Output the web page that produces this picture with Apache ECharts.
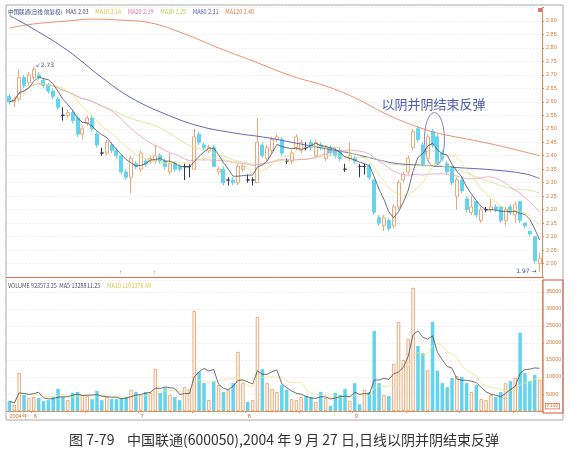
<!DOCTYPE html>
<html lang="zh">
<head>
  <meta charset="utf-8">
</head>
<body style="margin: 0; background: #fff">
  <div id="container" style="width: 582px; height: 459px"></div>

  <script type="text/javascript" src="https://cdn.jsdelivr.net/npm/echarts@6/dist/echarts.min.js"></script>

  <script type="text/javascript">
    // daily bars, May–Nov 2004
    const openPrices = [2.62, 2.60, 2.61, 2.69, 2.67, 2.69, 2.70, 2.68, 2.66, 2.64,
      2.61, 2.55, 2.55, 2.56, 2.54, 2.48, 2.52, 2.54, 2.48, 2.41,
      2.41, 2.44, 2.42, 2.40, 2.34, 2.32, 2.37, 2.35, 2.38, 2.38,
      2.38, 2.40, 2.38, 2.34, 2.37, 2.36, 2.36, 2.36, 2.35, 2.48,
      2.44, 2.42, 2.43, 2.34, 2.35, 2.31, 2.31, 2.30, 2.35, 2.31,
      2.31, 2.30, 2.44, 2.39, 2.42, 2.46, 2.46, 2.38, 2.38, 2.43,
      2.42, 2.43, 2.45, 2.40, 2.44, 2.39, 2.43, 2.42, 2.42, 2.35,
      2.39, 2.39, 2.36, 2.36, 2.36, 2.31, 2.17, 2.14, 2.16, 2.14,
      2.21, 2.31, 2.34, 2.43, 2.50, 2.44, 2.39, 2.49, 2.47, 2.41,
      2.37, 2.36, 2.25, 2.31, 2.24, 2.19, 2.23, 2.16, 2.20, 2.20,
      2.21, 2.21, 2.16, 2.21, 2.18, 2.23, 2.15, 2.12, 2.10, 2.00];
    const closePrices = [2.60, 2.61, 2.69, 2.66, 2.70, 2.72, 2.69, 2.66, 2.64, 2.62,
      2.58, 2.55, 2.56, 2.53, 2.48, 2.50, 2.54, 2.50, 2.44, 2.41,
      2.45, 2.42, 2.40, 2.34, 2.32, 2.39, 2.36, 2.41, 2.37, 2.39,
      2.40, 2.38, 2.36, 2.37, 2.35, 2.35, 2.36, 2.36, 2.47, 2.45,
      2.43, 2.43, 2.36, 2.35, 2.30, 2.31, 2.30, 2.36, 2.36, 2.31,
      2.31, 2.45, 2.40, 2.43, 2.46, 2.47, 2.41, 2.38, 2.41, 2.47,
      2.45, 2.43, 2.43, 2.45, 2.43, 2.43, 2.41, 2.40, 2.39, 2.35,
      2.40, 2.38, 2.36, 2.36, 2.32, 2.19, 2.15, 2.17, 2.13, 2.21,
      2.30, 2.33, 2.39, 2.49, 2.46, 2.37, 2.47, 2.44, 2.37, 2.39,
      2.34, 2.30, 2.31, 2.27, 2.20, 2.21, 2.18, 2.20, 2.20, 2.21,
      2.20, 2.16, 2.20, 2.19, 2.22, 2.16, 2.14, 2.11, 2.01, 2.02];
    const lowPrices = [2.59, 2.58, 2.60, 2.65, 2.66, 2.68, 2.68, 2.65, 2.63, 2.61,
      2.57, 2.53, 2.54, 2.52, 2.47, 2.46, 2.51, 2.49, 2.43, 2.40,
      2.40, 2.41, 2.39, 2.33, 2.31, 2.26, 2.35, 2.34, 2.36, 2.37,
      2.37, 2.37, 2.35, 2.33, 2.34, 2.34, 2.31, 2.32, 2.35, 2.44,
      2.42, 2.41, 2.36, 2.33, 2.29, 2.29, 2.29, 2.29, 2.34, 2.30,
      2.29, 2.30, 2.39, 2.38, 2.41, 2.45, 2.40, 2.37, 2.37, 2.42,
      2.41, 2.42, 2.42, 2.39, 2.42, 2.38, 2.40, 2.39, 2.38, 2.34,
      2.38, 2.37, 2.32, 2.33, 2.31, 2.18, 2.14, 2.12, 2.12, 2.13,
      2.20, 2.30, 2.33, 2.42, 2.45, 2.36, 2.38, 2.43, 2.36, 2.38,
      2.33, 2.29, 2.20, 2.26, 2.19, 2.18, 2.17, 2.15, 2.19, 2.19,
      2.19, 2.15, 2.14, 2.18, 2.15, 2.15, 2.13, 2.10, 2.00, 1.97];
    const highPrices = [2.63, 2.62, 2.72, 2.70, 2.71, 2.73, 2.71, 2.69, 2.67, 2.65,
      2.62, 2.58, 2.57, 2.57, 2.55, 2.51, 2.55, 2.55, 2.49, 2.43,
      2.46, 2.45, 2.43, 2.40, 2.35, 2.40, 2.38, 2.42, 2.39, 2.40,
      2.44, 2.41, 2.39, 2.41, 2.38, 2.37, 2.37, 2.37, 2.50, 2.49,
      2.45, 2.44, 2.44, 2.36, 2.36, 2.32, 2.32, 2.37, 2.37, 2.33,
      2.32, 2.54, 2.45, 2.44, 2.47, 2.48, 2.47, 2.39, 2.42, 2.48,
      2.46, 2.45, 2.46, 2.46, 2.45, 2.44, 2.44, 2.43, 2.43, 2.37,
      2.45, 2.40, 2.37, 2.37, 2.37, 2.31, 2.18, 2.18, 2.17, 2.22,
      2.31, 2.34, 2.40, 2.50, 2.51, 2.45, 2.48, 2.50, 2.48, 2.42,
      2.38, 2.36, 2.32, 2.32, 2.25, 2.25, 2.23, 2.21, 2.21, 2.24,
      2.22, 2.21, 2.21, 2.22, 2.23, 2.23, 2.15, 2.12, 2.10, 2.04];
    const volumes = [2900, 1800, 11200, 4700, 3800, 4100, 3800, 2900, 3200, 4100,
      6500, 4100, 3200, 5300, 5600, 4700, 4400, 3500, 5900, 3200,
      4100, 3500, 3500, 3800, 4100, 6200, 5600, 4700, 5600, 5300,
      12300, 5300, 6800, 4700, 4100, 3200, 7000, 6500, 29400, 11500,
      8200, 3200, 8800, 7600, 5600, 6200, 8200, 17400, 8200, 2700,
      3200, 27600, 12300, 8200, 6500, 5600, 7600, 6200, 3500, 3200,
      4100, 4400, 4100, 2700, 5600, 3800, 1500, 5300, 4700, 6500,
      2900, 8200, 2000, 6200, 5600, 23500, 8200, 4700, 4400, 13800,
      26200, 15000, 21200, 36200, 19100, 17000, 12000, 26200, 11900, 8200,
      7000, 9700, 10300, 10000, 8200, 5600, 7600, 3500, 3200, 4700,
      4100, 5600, 8200, 8800, 9700, 23000, 11200, 8800, 10600, 9200];

    // long averages come from older data off the chart, so they are read as [day, value]
    const ma60Points = [[0, 2.92], [5, 2.87], [12, 2.79], [19, 2.69], [25, 2.615], [32, 2.555],
      [39, 2.51], [46, 2.485], [53, 2.467], [58, 2.45], [65, 2.426], [70, 2.41], [77, 2.38],
      [80, 2.37], [85, 2.365], [92, 2.356], [99, 2.348], [106, 2.333], [109, 2.315]];
    const ma120Points = [[0, 2.874], [5, 2.889], [12, 2.90], [17, 2.907], [22, 2.904], [29, 2.893],
      [36, 2.852], [43, 2.80], [50, 2.752], [58, 2.696], [65, 2.659], [71, 2.615], [78, 2.55],
      [85, 2.50], [89, 2.48], [99, 2.444], [109, 2.40]];

    // month labels on the date strip, keyed by day index
    const monthTicks = { 0: '2004年', 5: '6', 27: '7', 49: '8', 71: '9' };

    const UP = '#eea878';
    const DOWN = '#62d4ee';

    function movingAvg(values, n) {
      return values.map(function (v, i) {
        var s = Math.max(0, i - n + 1), sum = 0;
        for (var k = s; k <= i; k++) sum += values[k];
        return +(sum / (i - s + 1)).toFixed(4);
      });
    }

    var days = openPrices.map(function (_, i) { return String(i); });
    var candles = openPrices.map(function (o, i) {
      return [o, closePrices[i], lowPrices[i], highPrices[i]];
    });
    var volBars = volumes.map(function (v, i) {
      var up = closePrices[i] > openPrices[i] ||
        (closePrices[i] === openPrices[i] && i > 0 && closePrices[i] >= closePrices[i - 1]);
      return {
        value: v,
        itemStyle: up ? { color: '#fff', borderColor: UP, borderWidth: 1 } : { color: DOWN }
      };
    });

    var dom = document.getElementById('container');
    var myChart = echarts.init(dom, null, { renderer: 'canvas' });

    var thin = function (color, w) {
      return { color: color, width: w || 0.8 };
    };

    var option = {
      animation: false,
      backgroundColor: '#fff',
      grid: [
        { left: 7, right: 40, top: 7.5, height: 269.5 },
        { left: 7, right: 40, top: 280, height: 131 }
      ],
      xAxis: [
        {
          type: 'category', gridIndex: 0, data: days,
          axisLine: { lineStyle: { color: '#e06a50' } },
          axisTick: { show: false }, axisLabel: { show: false }
        },
        {
          type: 'category', gridIndex: 1, data: days,
          axisLine: { lineStyle: { color: '#e0905a' } },
          axisTick: {
            show: true, length: 2, lineStyle: { color: '#e0905a' },
            interval: function (i) { return i % 11 === 5; }
          },
          axisLabel: {
            interval: 0, fontSize: 5.5, color: '#c86a2a', margin: 2, align: 'left',
            formatter: function (v, i) { return monthTicks[i] || ''; }
          }
        }
      ],
      yAxis: [
        {
          gridIndex: 0, position: 'right', min: 1.95, max: 2.95, interval: 0.05,
          axisLine: { show: true, lineStyle: { color: '#e08a50' } },
          axisTick: { show: true, length: 2, lineStyle: { color: '#e08a50' } },
          axisLabel: {
            fontSize: 5.5, color: '#d07a35', margin: 4,
            formatter: function (v) {
              return (v < 1.97 || v > 2.93) ? '' : v.toFixed(2);
            }
          },
          splitLine: { lineStyle: { color: '#e6e6e6', type: 'dashed', width: 0.6 } }
        },
        {
          gridIndex: 1, position: 'right', min: 0, max: 38500, interval: 5000,
          axisLine: { show: true, lineStyle: { color: '#e08a50' } },
          axisTick: { show: true, length: 2, lineStyle: { color: '#e08a50' } },
          axisLabel: {
            fontSize: 5.5, color: '#d07a35', margin: 4,
            formatter: function (v) { return (v === 0 || v > 36000) ? '' : v; }
          },
          splitLine: { lineStyle: { color: '#e6e6e6', type: 'dashed', width: 0.6 } }
        }
      ],
      series: [
        {
          name: 'K', type: 'candlestick', xAxisIndex: 0, yAxisIndex: 0,
          data: candles, barWidth: '72%',
          itemStyle: {
            color: '#fff', color0: DOWN,
            borderColor: UP, borderColor0: DOWN,
            borderColorDoji: '#2c3560', borderWidth: 1
          }
        },
        { name: 'MA120', type: 'line', data: ma120Points, smooth: 0.4, symbol: 'none', lineStyle: thin('#eb9070', 1) },
        { name: 'MA60', type: 'line', data: ma60Points, smooth: 0.4, symbol: 'none', lineStyle: thin('#6268b8', 1) },
        { name: 'MA30', type: 'line', data: movingAvg(closePrices, 30), symbol: 'none', lineStyle: thin('#cfe28a') },
        { name: 'MA20', type: 'line', data: movingAvg(closePrices, 20), symbol: 'none', lineStyle: thin('#ec98c0') },
        { name: 'MA10', type: 'line', data: movingAvg(closePrices, 10), symbol: 'none', lineStyle: thin('#ece07a') },
        { name: 'MA5', type: 'line', data: movingAvg(closePrices, 5), symbol: 'none', lineStyle: thin('#4a4a62') },
        {
          name: 'VOLUME', type: 'bar', xAxisIndex: 1, yAxisIndex: 1,
          data: volBars, barWidth: '72%'
        },
        {
          name: 'VMA10', type: 'line', xAxisIndex: 1, yAxisIndex: 1,
          data: movingAvg(volumes, 10), symbol: 'none', lineStyle: thin('#eee48a')
        },
        {
          name: 'VMA5', type: 'line', xAxisIndex: 1, yAxisIndex: 1,
          data: movingAvg(volumes, 5), symbol: 'none', lineStyle: thin('#4a4a58')
        }
      ]
    };

    myChart.setOption(option);

    // annotations placed from data positions
    var px = function (i, p) { return myChart.convertToPixel({ xAxisIndex: 0, yAxisIndex: 0 }, [i, p]); };
    var ell = px(88, 2.46);
    var hi = px(5, 2.73);
    var lo = px(109, 1.97);
    var m1 = px(23, 1.955);
    var m2 = px(30, 1.955);
    var tiny = { fontSize: 5.5, fontFamily: 'Noto Sans CJK SC' };

    myChart.setOption({
      graphic: [
        { type: 'rect', shape: { x: 6, y: 5, width: 557, height: 415 }, style: { fill: 'none', stroke: '#a8a8a8', lineWidth: 1 } },
        { type: 'rect', shape: { x: 543, y: 280, width: 20, height: 133 }, style: { fill: 'none', stroke: '#e0503c', lineWidth: 1 } },
        { type: 'rect', shape: { x: 538, y: 8, width: 4, height: 4 }, style: { fill: '#e07070' } },
        {
          type: 'text', left: 545, top: 403,
          style: { text: 'X100', fill: '#d07a35', fontSize: 5, backgroundColor: '#fff', borderColor: '#e0503c', borderWidth: 0.6, padding: [0, 1] }
        },
        {
          type: 'text', left: 8, top: 6,
          style: {
            text: '{a|中国联通(日线 前复权)} {b|MA5 2.03}  {c|MA10 2.14}  {d|MA20 2.19}  {e|MA30 2.25}  {f|MA60 2.31}  {g|MA120 2.40}',
            rich: {
              a: Object.assign({ fill: '#3a4a8a' }, tiny),
              b: Object.assign({ fill: '#4a4a62' }, tiny),
              c: Object.assign({ fill: '#d8c840' }, tiny),
              d: Object.assign({ fill: '#e070a8' }, tiny),
              e: Object.assign({ fill: '#b0d060' }, tiny),
              f: Object.assign({ fill: '#4a5ab0' }, tiny),
              g: Object.assign({ fill: '#e07a40' }, tiny)
            }
          }
        },
        {
          type: 'text', left: 8, top: 280,
          style: {
            text: '{a|VOLUME 923573.25  MA5 1328811.25}  {c|MA10 1102376.40}',
            rich: {
              a: Object.assign({ fill: '#4a4a62' }, tiny),
              c: Object.assign({ fill: '#d8c840' }, tiny)
            }
          }
        },
        {
          type: 'text', x: hi[0] + 2, y: hi[1] - 4,
          style: { text: '↙2.73', fill: '#3a4a8a', fontSize: 6, fontFamily: 'DejaVu Sans' }
        },
        {
          type: 'text', x: lo[0] - 3, y: lo[1] - 3,
          style: { text: '1.97 →', fill: '#3a4a8a', fontSize: 6, fontFamily: 'DejaVu Sans', align: 'right' }
        },
        { type: 'text', x: m1[0] - 2, y: m1[1] - 6, style: { text: '↑', fill: '#e05040', fontSize: 6 } },
        { type: 'text', x: m2[0] - 2, y: m2[1] - 6, style: { text: '↑', fill: '#e05040', fontSize: 6 } },
        {
          type: 'ellipse', shape: { cx: ell[0] - 3, cy: ell[1], rx: 10, ry: 27 },
          style: { fill: 'none', stroke: '#7a7ec8', lineWidth: 1 }
        },
        {
          type: 'text', x: ell[0] - 4, y: ell[1] - 35,
          style: {
            text: '以阴并阴结束反弹', fill: '#4e5aa8', fontSize: 13,
            fontFamily: 'Noto Sans CJK SC', align: 'center', verticalAlign: 'middle'
          }
        },
        {
          type: 'text', x: 284, y: 440,
          style: {
            text: '图 7-79    中国联通(600050),2004 年 9 月 27 日,日线以阴并阴结束反弹',
            fill: '#333', fontSize: 14, fontFamily: 'Noto Sans CJK SC',
            align: 'center', verticalAlign: 'middle'
          }
        }
      ]
    });

    window.addEventListener('resize', myChart.resize);
  </script>
</body>
</html>
